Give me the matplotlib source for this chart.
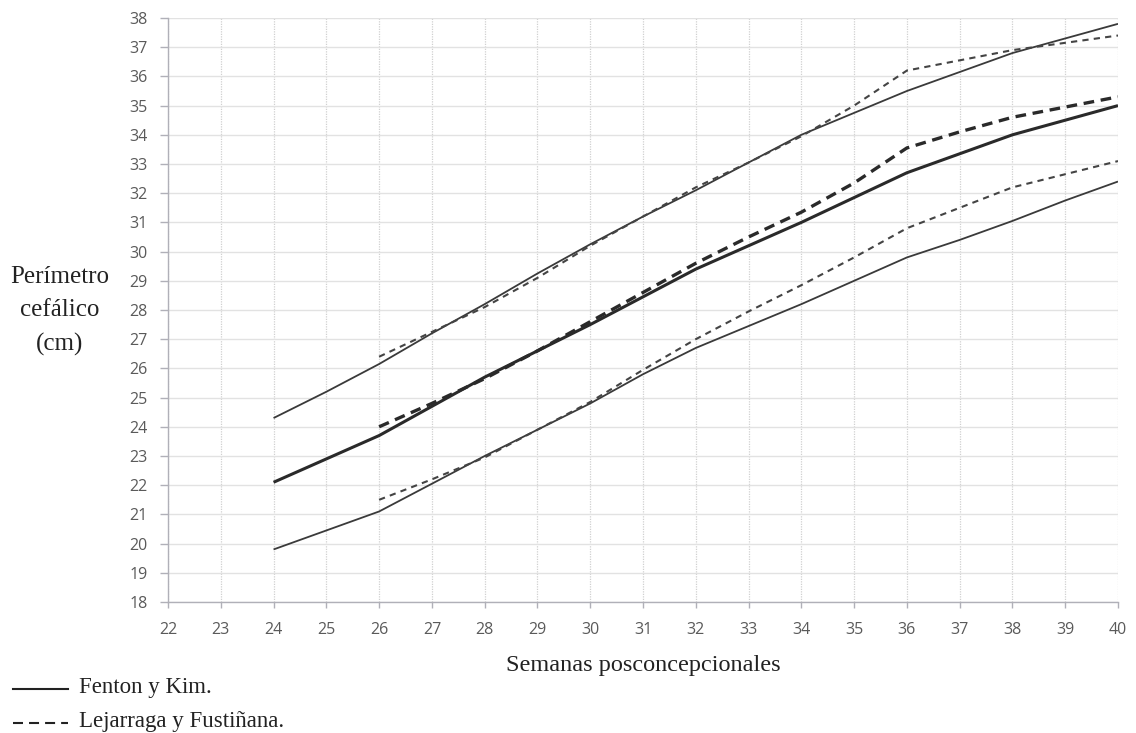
import matplotlib
matplotlib.use("Agg")
import matplotlib.pyplot as plt
from matplotlib.lines import Line2D

weeks_fenton = [24, 25, 26, 27, 28, 29, 30, 31, 32, 33, 34, 35, 36, 37, 38, 39, 40]
fenton_p90 = [24.3, 25.2, 26.15, 27.2, 28.2, 29.25, 30.25, 31.2, 32.1, 33.05, 34.0, 34.75, 35.5, 36.15, 36.8, 37.3, 37.8]
fenton_p50 = [22.1, 22.9, 23.7, 24.7, 25.7, 26.6, 27.5, 28.45, 29.4, 30.2, 31.0, 31.85, 32.7, 33.35, 34.0, 34.5, 35.0]
fenton_p10 = [19.8, 20.45, 21.1, 22.05, 23.0, 23.9, 24.8, 25.8, 26.7, 27.45, 28.2, 29.0, 29.8, 30.4, 31.05, 31.75, 32.4]

weeks_lej = [26, 27, 28, 29, 30, 31, 32, 33, 34, 35, 36, 37, 38, 39, 40]
lej_p90 = [26.4, 27.25, 28.1, 29.1, 30.2, 31.2, 32.2, 33.05, 33.95, 35.0, 36.2, 36.55, 36.9, 37.15, 37.4]
lej_p50 = [24.0, 24.8, 25.65, 26.6, 27.6, 28.6, 29.6, 30.5, 31.35, 32.35, 33.55, 34.1, 34.6, 34.95, 35.3]
lej_p10 = [21.5, 22.2, 22.95, 23.9, 24.85, 25.95, 27.0, 27.95, 28.85, 29.8, 30.8, 31.5, 32.2, 32.65, 33.1]

x_ticks = list(range(22, 41))
y_ticks = list(range(18, 39))
legend_labels = ["Fenton y Kim.", "Lejarraga y Fustiñana."]

W, H = 1136, 733
fig = plt.figure(figsize=(W / 100, H / 100), dpi=100)
ax = fig.add_axes([168 / W, 1 - 602 / H, (1118 - 168) / W, (602 - 18) / H])

line_col = "#3a3a3a"
ax.plot(weeks_fenton, fenton_p90, color=line_col, lw=1.3, solid_capstyle="butt")
ax.plot(weeks_fenton, fenton_p50, color="#2a2a2a", lw=2.2, solid_capstyle="butt")
ax.plot(weeks_fenton, fenton_p10, color=line_col, lw=1.3, solid_capstyle="butt")
ax.plot(weeks_lej, lej_p90, color="#444444", lw=1.5, dashes=(3, 2.5))
ax.plot(weeks_lej, lej_p50, color="#2a2a2a", lw=2.4, dashes=(3.2, 2.0))
ax.plot(weeks_lej, lej_p10, color="#444444", lw=1.5, dashes=(3, 2.5))

ax.set_xlim(22, 40)
ax.set_ylim(18, 38)
ax.set_xticks(x_ticks)
ax.set_yticks(y_ticks)
ax.set_xticklabels([str(t) for t in x_ticks], fontfamily="Open Sans", fontsize=11.5)
ax.set_yticklabels([str(t) for t in y_ticks], fontfamily="Open Sans", fontsize=11.5)

ax.grid(axis="y", color="#e2e2e2", lw=1.0, ls="-")
ax.grid(axis="x", color="#d0d0d0", lw=0.9, ls=(0, (1, 1)))
ax.set_axisbelow(True)

for s in ["top", "right"]:
    ax.spines[s].set_visible(False)
for s in ["left", "bottom"]:
    ax.spines[s].set_color("#b0b0b8")
    ax.spines[s].set_linewidth(1.0)
ax.tick_params(axis="both", colors="#b0b0b8", width=1.0, labelcolor="#5a5a5a")
ax.tick_params(axis="x", length=4.5, pad=10)
ax.tick_params(axis="y", length=5.5, pad=9)

serif = "Liberation Serif"
fig.text(60 / W, 1 - 311 / H, "Perímetro\ncefálico\n(cm)", ha="center", va="center",
         fontfamily=serif, fontsize=18, color="#222222", linespacing=1.68)
fig.text(643 / W, 1 - 666 / H, "Semanas posconcepcionales", ha="center", va="center",
         fontfamily=serif, fontsize=17.5, color="#222222")

# legend (drawn manually in figure coordinates)
leg_rows = [689, 723]
leg_styles = [dict(ls="-"), dict(dashes=(4.8, 2.9))]
for y, lab, st in zip(leg_rows, legend_labels, leg_styles):
    fig.add_artist(Line2D([13 / W, 68 / W], [1 - y / H, 1 - y / H], color="#222222",
                          lw=1.5, transform=fig.transFigure, **st))
    fig.text(79 / W, 1 - (y - 1) / H, lab, ha="left", va="center", fontfamily=serif,
             fontsize=16.5, color="#222222")

fig.savefig("out.png", dpi=100, facecolor="white")
